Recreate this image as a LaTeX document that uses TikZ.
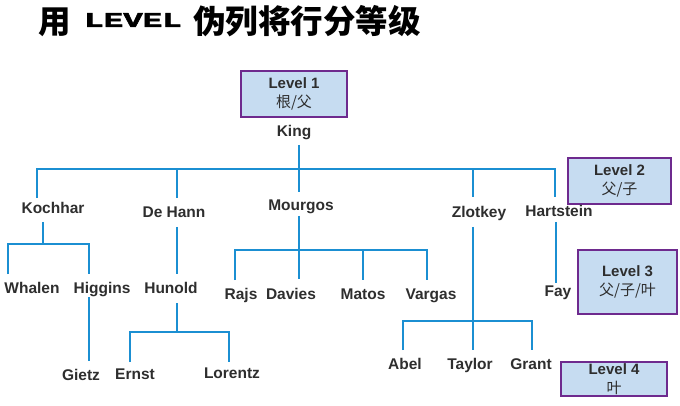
\documentclass[tikz,border=0pt]{standalone}
\usepackage{fontspec}
\usepackage{graphicx}
\setmainfont{Liberation Sans}
\newfontfamily\cjk{Noto Sans CJK SC}
\newfontfamily\mono{Liberation Mono}[BoldFeatures={FakeBold=2}]
\definecolor{wire}{HTML}{1B8FD2}
\definecolor{boxfill}{HTML}{C6DCF1}
\definecolor{boxline}{HTML}{6E2A8E}
\definecolor{ink}{HTML}{2E2E2E}
\tikzset{
  person/.style={anchor=base, inner sep=0pt, text=ink,
    font=\fontsize{15.5}{18}\selectfont\bfseries},
  levelbox/.style={draw=boxline, fill=boxfill, line width=2pt, inner sep=0pt,
    align=center, text=ink, font=\fontsize{15}{18.5}\selectfont},
  wires/.style={draw=wire, line width=2pt},
  heading/.style={anchor=base west, inner sep=0pt,
    font=\fontsize{32.5}{32}\selectfont\cjk\bfseries},
}
\newcommand{\lvl}[2]{{\bfseries #1}\\{\cjk #2}}
\begin{document}
\begin{tikzpicture}[x=1pt, y=-1pt]
\useasboundingbox (0,0) rectangle (680,406);

% heading
\node[heading] (t1) at (38,34) {用};
\node[anchor=base west, inner sep=0pt, font=\fontsize{21}{21}\selectfont\mono\bfseries] (t2) at (84,27) {\scalebox{1.55}[1]{LEVEL}};
\node[heading] (t3) at (193,34) {伪列将行分等级};

% level boxes
\node[levelbox, minimum width=106pt, minimum height=46pt] (l1) at (294,94) {\lvl{Level 1}{根/父}};
\node[levelbox, minimum width=103pt, minimum height=46pt] (l2) at (619.5,181) {\lvl{Level 2}{父/子}};
\node[levelbox, minimum width=99pt, minimum height=64pt] (l3) at (627.5,282) {\lvl{Level 3}{父/子/叶}};
\node[levelbox, minimum width=106pt, minimum height=34pt] (l4) at (614,379) {\lvl{Level 4}{叶}};

% employees
\node[person] (king) at (294,137) {King};
\node[person] (kochhar) at (53,214) {Kochhar};
\node[person] (dehann) at (174,217.5) {De Hann};
\node[person] (mourgos) at (301,211) {Mourgos};
\node[person] (zlotkey) at (479,218) {Zlotkey};
\node[person] (hartstein) at (559,216.5) {Hartstein};
\node[person] (whalen) at (32,293) {Whalen};
\node[person] (higgins) at (102,293) {Higgins};
\node[person] (hunold) at (171,293) {Hunold};
\node[person] (rajs) at (241,299) {Rajs};
\node[person] (davies) at (291,299) {Davies};
\node[person] (matos) at (363,299) {Matos};
\node[person] (vargas) at (431,299) {Vargas};
\node[person] (fay) at (558,296.5) {Fay};
\node[person] (gietz) at (81,380) {Gietz};
\node[person] (ernst) at (135,379) {Ernst};
\node[person] (lorentz) at (232,378) {Lorentz};
\node[person] (abel) at (405,369) {Abel};
\node[person] (taylor) at (470,369) {Taylor};
\node[person] (grant) at (531,369) {Grant};

% connector ends and junctions
\coordinate (king-s) at (299,145);
\coordinate (bus1-w) at (37,169);
\coordinate (bus1-e) at (555,169);
\coordinate (bus1-k) at (299,169);
\coordinate (bus1-d) at (177,169);
\coordinate (bus1-z) at (473,169);
\coordinate (kochhar-n) at (37,198);
\coordinate (dehann-n) at (177,198);
\coordinate (mourgos-n) at (299,192);
\coordinate (zlotkey-n) at (473,197);
\coordinate (hartstein-n) at (555,197);

\coordinate (kochhar-s) at (43,222);
\coordinate (bus2) at (43,244);
\coordinate (bus2-w) at (8,244);
\coordinate (bus2-e) at (89,244);
\coordinate (whalen-n) at (8,274);
\coordinate (higgins-n) at (89,274);

\coordinate (dehann-s) at (177,227);
\coordinate (hunold-n) at (177,274);

\coordinate (mourgos-s) at (299,216);
\coordinate (bus3-w) at (235,250);
\coordinate (bus3-m) at (363,250);
\coordinate (bus3-e) at (427,250);
\coordinate (davies-n) at (299,279);
\coordinate (rajs-n) at (235,280);
\coordinate (matos-n) at (363,280);
\coordinate (vargas-n) at (427,280);

\coordinate (zlotkey-s) at (473,227);
\coordinate (bus4-w) at (403,321);
\coordinate (bus4-e) at (532,321);
\coordinate (taylor-n) at (473,350);
\coordinate (abel-n) at (403,350);
\coordinate (grant-n) at (532,350);

\coordinate (hartstein-s) at (556,222);
\coordinate (fay-n) at (556,283);

\coordinate (higgins-s) at (89,297);
\coordinate (gietz-n) at (89,361);

\coordinate (hunold-s) at (177,303);
\coordinate (bus5) at (177,332);
\coordinate (bus5-w) at (130,332);
\coordinate (bus5-e) at (229,332);
\coordinate (ernst-n) at (130,362);
\coordinate (lorentz-n) at (229,362);

% tree connectors
\path[wires] (king-s) -- (bus1-k);
\path[wires] (kochhar-n) -- (bus1-w) -- (bus1-e) -- (hartstein-n);
\path[wires] (bus1-d) -- (dehann-n);
\path[wires] (bus1-k) -- (mourgos-n);
\path[wires] (bus1-z) -- (zlotkey-n);

\path[wires] (kochhar-s) -- (bus2);
\path[wires] (whalen-n) -- (bus2-w) -- (bus2-e) -- (higgins-n);
\path[wires] (dehann-s) -- (hunold-n);
\path[wires] (mourgos-s) -- (davies-n);
\path[wires] (rajs-n) -- (bus3-w) -- (bus3-e) -- (vargas-n);
\path[wires] (bus3-m) -- (matos-n);
\path[wires] (zlotkey-s) -- (taylor-n);
\path[wires] (abel-n) -- (bus4-w) -- (bus4-e) -- (grant-n);
\path[wires] (hartstein-s) -- (fay-n);
\path[wires] (higgins-s) -- (gietz-n);
\path[wires] (hunold-s) -- (bus5);
\path[wires] (ernst-n) -- (bus5-w) -- (bus5-e) -- (lorentz-n);
\end{tikzpicture}
\end{document}
